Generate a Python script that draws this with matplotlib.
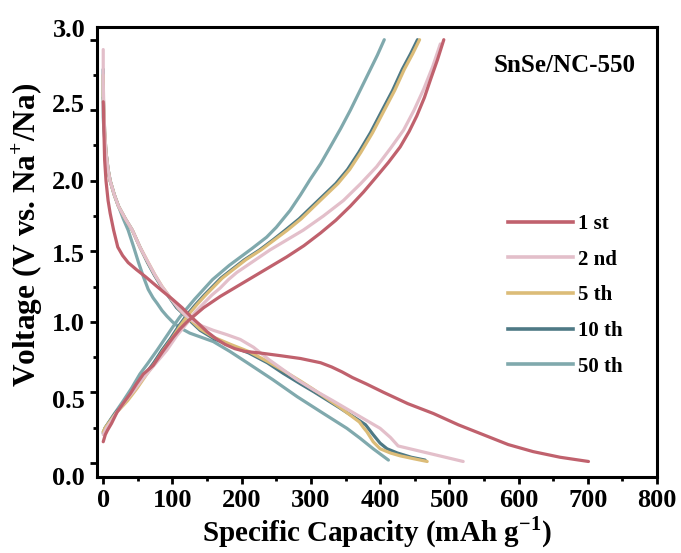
import matplotlib
matplotlib.use("Agg")
import matplotlib.pyplot as plt
from matplotlib.ticker import MultipleLocator
from matplotlib.transforms import ScaledTranslation

plt.rcParams['font.family'] = ['Liberation Serif', 'DejaVu Serif']
plt.rcParams['font.weight'] = 'bold'
plt.rcParams['mathtext.fontset'] = 'custom'
plt.rcParams['mathtext.rm'] = 'Liberation Serif:bold'
plt.rcParams['mathtext.bf'] = 'Liberation Serif:bold'

labels = ['1 st', '2 nd', '5 th', '10 th', '50 th']
colors = ['#c0616d', '#e3bfca', '#dcbc78', '#4e7985', '#80a9ad']

# Discharge curves (capacity mAh/g, voltage V)
dis_1_x = [0, 1, 2, 4, 7, 10, 15, 21, 28, 36, 48, 61, 73, 85, 100, 114, 126, 137, 150, 163, 176, 190, 205, 225, 256,
           285, 314, 330, 345, 360, 380, 405, 440, 477, 513, 549, 585, 621, 660, 701]
dis_1_y = [2.56, 2.35, 2.15, 2.0, 1.86, 1.77, 1.65, 1.53, 1.47, 1.42, 1.37, 1.32, 1.27, 1.22, 1.16, 1.10, 1.04, 0.99,
           0.93, 0.88, 0.84, 0.81, 0.79, 0.78, 0.76, 0.74, 0.71, 0.68, 0.645, 0.605, 0.56, 0.50, 0.42, 0.35, 0.27, 0.20,
           0.13, 0.08, 0.04, 0.01]
dis_2_x = [0, 0, 1, 2, 4, 7, 10, 16, 22, 32, 42, 53, 65, 75, 85, 97, 108, 118, 129, 143, 159, 178, 198, 217, 240, 260,
           280, 305, 332, 365, 400, 415, 426, 473, 520]
dis_2_y = [2.93, 2.7, 2.5, 2.35, 2.2, 2.08, 2.0, 1.9, 1.82, 1.73, 1.65, 1.53, 1.42, 1.33, 1.25, 1.17, 1.10, 1.05, 1.01,
           0.97, 0.94, 0.91, 0.875, 0.82, 0.73, 0.66, 0.59, 0.515, 0.44, 0.345, 0.245, 0.18, 0.12, 0.065, 0.01]
dis_5_x = [0, 0, 1, 2, 4, 7, 10, 16, 22, 32, 42, 53, 65, 75, 85, 97, 108, 118, 129, 140, 160, 184, 210, 237, 260, 285,
           304, 340, 370, 376, 381, 390, 400, 415, 429, 448, 468]
dis_5_y = [2.75, 2.6, 2.5, 2.35, 2.2, 2.08, 2.0, 1.9, 1.82, 1.73, 1.65, 1.53, 1.42, 1.33, 1.25, 1.17, 1.10, 1.05, 1.0,
           0.95, 0.89, 0.84, 0.79, 0.72, 0.655, 0.58, 0.52, 0.40, 0.29, 0.25, 0.22, 0.15, 0.10, 0.07, 0.05, 0.03, 0.01]
dis_10_x = [0, 0, 1, 2, 4, 7, 10, 16, 22, 32, 42, 53, 64, 74, 84, 96, 106, 117, 127, 140, 160, 184, 210, 237, 260, 285,
            304, 340, 370, 379, 390, 400, 410, 425, 445, 465]
dis_10_y = [2.79, 2.6, 2.5, 2.35, 2.2, 2.08, 2.0, 1.9, 1.82, 1.73, 1.65, 1.53, 1.42, 1.33, 1.25, 1.17, 1.10, 1.05, 1.0,
            0.94, 0.88, 0.83, 0.78, 0.71, 0.635, 0.56, 0.505, 0.395, 0.30, 0.27, 0.20, 0.14, 0.10, 0.07, 0.04, 0.02]
dis_50_x = [0, 0, 1, 2, 4, 7, 10, 16, 22, 29, 36, 44, 51, 58, 65, 72, 78, 85, 92, 100, 110, 125, 142, 159, 183, 208, 245,
            280, 315, 352, 371, 390, 412]
dis_50_y = [2.59, 2.45, 2.35, 2.3, 2.2, 2.08, 2.0, 1.9, 1.82, 1.73, 1.65, 1.53, 1.42, 1.32, 1.23, 1.17, 1.13, 1.08, 1.04,
            1.0, 0.96, 0.92, 0.89, 0.86, 0.79, 0.71, 0.59, 0.47, 0.36, 0.245, 0.175, 0.10, 0.02]

# Charge curves
chg_1_x = [0, 3, 6, 12, 20, 30, 39, 48, 58, 65, 72, 86, 101, 111, 121, 133, 145, 157, 169, 193, 217, 241, 265, 290, 314,
           336, 357, 376, 395, 412, 429, 442, 453, 464, 473, 483, 492]
chg_1_y = [0.15, 0.2, 0.23, 0.28, 0.36, 0.43, 0.49, 0.56, 0.63, 0.66, 0.69, 0.79, 0.89, 0.95, 1.0, 1.05, 1.1, 1.14, 1.18,
           1.25, 1.32, 1.39, 1.46, 1.54, 1.63, 1.72, 1.82, 1.92, 2.03, 2.13, 2.24, 2.35, 2.46, 2.59, 2.72, 2.86, 3.0]
chg_2_x = [0, 5, 12, 20, 32, 44, 56, 68, 80, 92, 106, 121, 133, 145, 157, 169, 181, 193, 217, 241, 265, 289, 318, 347,
           372, 395, 415, 434, 449, 463, 476, 487]
chg_2_y = [0.2, 0.25, 0.3, 0.36, 0.44, 0.51, 0.59, 0.66, 0.73, 0.80, 0.9, 0.99, 1.07, 1.13, 1.19, 1.24, 1.30, 1.35, 1.43,
           1.51, 1.58, 1.65, 1.75, 1.86, 1.98, 2.10, 2.23, 2.36, 2.5, 2.65, 2.81, 2.97]
chg_5_x = [0, 3, 18, 35, 49, 63, 75, 87, 99, 111, 123, 135, 148, 160, 172, 185, 206, 228, 247, 266, 286, 305, 322, 339,
           356, 372, 389, 406, 421, 435, 447, 457]
chg_5_y = [0.22, 0.25, 0.35, 0.44, 0.53, 0.63, 0.71, 0.80, 0.88, 0.97, 1.05, 1.12, 1.19, 1.25, 1.31, 1.36, 1.44, 1.51,
           1.58, 1.65, 1.73, 1.82, 1.90, 1.98, 2.08, 2.20, 2.34, 2.50, 2.64, 2.79, 2.9, 3.0]
chg_10_x = [0, 3, 17, 33, 47, 61, 73, 85, 97, 109, 121, 133, 146, 158, 170, 183, 204, 226, 245, 263, 283, 302, 319, 336,
            353, 369, 386, 403, 418, 432, 444, 454]
chg_10_y = [0.21, 0.25, 0.35, 0.44, 0.53, 0.63, 0.71, 0.80, 0.88, 0.97, 1.05, 1.12, 1.19, 1.25, 1.31, 1.36, 1.44, 1.51,
            1.58, 1.65, 1.73, 1.82, 1.90, 1.98, 2.08, 2.20, 2.34, 2.50, 2.64, 2.79, 2.9, 3.0]
chg_50_x = [0, 3, 15, 29, 41, 53, 65, 78, 89, 100, 110, 120, 132, 145, 158, 170, 182, 193, 215, 236, 250, 260, 270, 285,
            299, 314, 328, 343, 357, 372, 386, 396, 406]
chg_50_y = [0.22, 0.25, 0.34, 0.44, 0.53, 0.63, 0.71, 0.80, 0.88, 0.96, 1.03, 1.09, 1.16, 1.23, 1.30, 1.35, 1.40, 1.44,
            1.52, 1.60, 1.67, 1.73, 1.79, 1.90, 2.01, 2.12, 2.24, 2.37, 2.50, 2.65, 2.79, 2.89, 3.0]

dis_x = [dis_1_x, dis_2_x, dis_5_x, dis_10_x, dis_50_x]
dis_y = [dis_1_y, dis_2_y, dis_5_y, dis_10_y, dis_50_y]
chg_x = [chg_1_x, chg_2_x, chg_5_x, chg_10_x, chg_50_x]
chg_y = [chg_1_y, chg_2_y, chg_5_y, chg_10_y, chg_50_y]

yticks = [0, 0.5, 1.0, 1.5, 2.0, 2.5, 3.0]
yticklabels = ['0.0', '0.5', '1.0', '1.5', '2.0', '2.5', '3.0']

fig = plt.figure(figsize=(6.81, 5.53), dpi=100)
ax = fig.add_axes([97/681, 1-477/553, (657-97)/681, (477-27)/553])

order = [4, 3, 2, 1, 0]
for i in order:
    ax.plot(chg_x[i], chg_y[i], color=colors[i], lw=2.3, solid_capstyle='round', solid_joinstyle='round')
    ax.plot(dis_x[i], dis_y[i], color=colors[i], lw=2.3, solid_capstyle='round', solid_joinstyle='round')

handles = [plt.Line2D([], [], color=c, lw=2.6) for c in colors]
ax.legend(handles, labels, loc='upper left', bbox_to_anchor=(508/681, 1-214/553),
          bbox_transform=fig.transFigure, frameon=False, borderpad=0, borderaxespad=0,
          handlelength=3.1, handletextpad=0.25, labelspacing=0.75,
          prop={'family': 'Liberation Serif', 'weight': 'bold', 'size': 15})

ax.text(565/681, 1-65/553, 'SnSe/NC-550', transform=fig.transFigure, ha='center', va='center',
        fontsize=18, fontweight='bold')

ax.set_xlim(-9, 800)
ax.set_ylim(-0.1, 3.09)
ax.xaxis.set_major_locator(MultipleLocator(100))
ax.xaxis.set_minor_locator(MultipleLocator(50))
ax.yaxis.set_minor_locator(MultipleLocator(0.25))
ax.set_yticks(yticks)
ax.set_yticklabels(yticklabels)
ax.tick_params(which='both', direction='out', width=2, top=False, right=False, labelsize=19)
ax.tick_params(which='major', length=5)
ax.tick_params(which='minor', length=3)
for lab in ax.get_xticklabels() + ax.get_yticklabels():
    lab.set_fontweight('bold')
for s in ax.spines.values():
    s.set_linewidth(2.2)

# small vertical offsets of y tick labels as in the original figure
offsets_px = [-13, -7, 0, -2, 1, 7, 12]
for tick, dy in zip(ax.yaxis.get_major_ticks(), offsets_px):
    tick.label1.set_transform(tick.label1.get_transform() + ScaledTranslation(0, dy/100, fig.dpi_scale_trans))

ax.set_xlabel('Specific Capacity (mAh g$^{-1}$)', fontsize=21, fontweight='bold', labelpad=2)
ax.set_ylabel('Voltage (V vs. Na$^{+}$/Na)', fontsize=22.5, fontweight='bold')
ax.yaxis.set_label_coords(-0.092, 0.537)

fig.savefig('out.png', dpi=100)
